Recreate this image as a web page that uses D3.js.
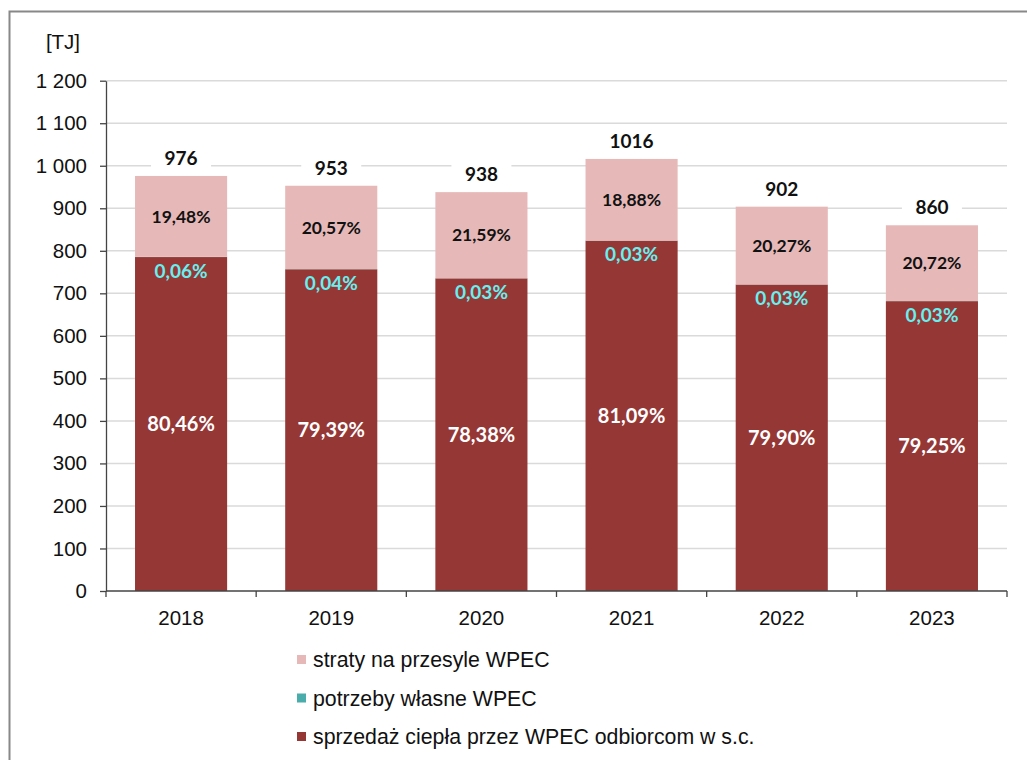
<!DOCTYPE html>
<html>
<head>
<meta charset="utf-8">
<script src="https://cdn.jsdelivr.net/npm/d3@7"></script>
<style>
  body { margin: 0; background: #fff; }
  svg { display: block; }
</style>
</head>
<body>
<div id="chart"></div>
<script>
// lata
const years = ["2018", "2019", "2020", "2021", "2022", "2023"];
// suma [TJ]
const totals = [976, 953, 938, 1016, 902, 860];
// sprzedaż ciepła [TJ]
const sales = [785.3, 756.6, 735.2, 823.9, 720.7, 681.6];
// potrzeby własne [TJ]
const ownNeeds = [0.59, 0.38, 0.28, 0.30, 0.27, 0.26];
// straty [TJ]
const losses = [190.1, 196.0, 202.5, 191.8, 182.8, 178.2];
// etykiety procentowe
const salesPct = ["80,46%", "79,39%", "78,38%", "81,09%", "79,90%", "79,25%"];
const ownPct = ["0,06%", "0,04%", "0,03%", "0,03%", "0,03%", "0,03%"];
const lossPct = ["19,48%", "20,57%", "21,59%", "18,88%", "20,27%", "20,72%"];
const yTicks = [0, 100, 200, 300, 400, 500, 600, 700, 800, 900, 1000, 1100, 1200];

const legendItems = [
  {label: "straty na przesyle WPEC", color: "#e6b9b8"},
  {label: "potrzeby własne WPEC", color: "#4bacac"},
  {label: "sprzedaż ciepła przez WPEC odbiorcom w s.c.", color: "#953735"}
];

const W = 1027, H = 760;
const plotLeft = 106, plotRight = 1007, plotTop = 80.7, plotBottom = 591;

const svg = d3.select("#chart").append("svg")
  .attr("width", W).attr("height", H);

// ramka
svg.append("path")
  .attr("d", `M9.5,${H + 2} V11.5 H${W + 2}`)
  .attr("fill", "none")
  .attr("stroke", "#888")
  .attr("stroke-width", 2);

const x = d3.scaleBand().domain(years).range([plotLeft, plotRight]).paddingInner(0.3867).paddingOuter(0.1933);
const xOuter = d3.scaleBand().domain(years).range([plotLeft, plotRight]);
const y = d3.scaleLinear().domain([0, 1200]).range([plotBottom, plotTop]);

// siatka
svg.append("g")
  .selectAll("line")
  .data(yTicks.filter(d => d > 0))
  .join("line")
  .attr("x1", plotLeft).attr("x2", plotRight)
  .attr("y1", d => y(d)).attr("y2", d => y(d))
  .attr("stroke", "#dadada")
  .attr("stroke-width", 1.5);

const fmt = d => d3.format(",")(d).replace(/,/g, " ");

// oś Y
const yAxis = svg.append("g")
  .attr("transform", `translate(${plotLeft},0)`)
  .call(d3.axisLeft(y).tickValues(yTicks).tickSize(6).tickSizeOuter(0).tickPadding(13).tickFormat(fmt));
yAxis.selectAll("text")
  .attr("font-family", "Liberation Sans, Arial, sans-serif")
  .attr("font-size", 20.5)
  .attr("fill", "#111");
yAxis.selectAll("line, path").attr("stroke", "#444").attr("stroke-width", 1.3);

// słupki
const stackData = years.map((yr, i) => ({year: yr, sales: sales[i], own: ownNeeds[i], losses: losses[i]}));
const stack = d3.stack().keys(["sales", "own", "losses"])(stackData);
const colors = {sales: "#953735", own: "#4bacac", losses: "#e6b9b8"};

svg.append("g")
  .selectAll("g")
  .data(stack)
  .join("g")
  .attr("fill", d => colors[d.key])
  .selectAll("rect")
  .data(d => d)
  .join("rect")
  .attr("x", d => x(d.data.year))
  .attr("width", x.bandwidth())
  .attr("y", d => y(d[1]))
  .attr("height", d => y(d[0]) - y(d[1]));

// oś X
const xAxisG = svg.append("g").attr("transform", `translate(0,${plotBottom})`);
xAxisG.append("line")
  .attr("x1", plotLeft).attr("x2", plotRight)
  .attr("stroke", "#444").attr("stroke-width", 1.3);
xAxisG.selectAll("line.tick")
  .data(years.map(d => xOuter(d)).concat([plotRight]))
  .join("line")
  .attr("class", "tick")
  .attr("x1", d => d).attr("x2", d => d)
  .attr("y1", 0).attr("y2", 6)
  .attr("stroke", "#444").attr("stroke-width", 1.3);
xAxisG.selectAll("text")
  .data(years)
  .join("text")
  .attr("x", d => x(d) + x.bandwidth() / 2)
  .attr("y", 34)
  .attr("text-anchor", "middle")
  .attr("font-family", "Liberation Sans, Arial, sans-serif")
  .attr("font-size", 20.5)
  .attr("fill", "#111")
  .text(d => d);

// [TJ]
svg.append("text")
  .attr("x", 63).attr("y", 49)
  .attr("text-anchor", "middle")
  .attr("font-family", "Liberation Sans, Arial, sans-serif")
  .attr("font-size", 20.5)
  .attr("fill", "#111")
  .text("[TJ]");

const labelFont = "Lato, Carlito, Calibri, sans-serif";
const cx = i => x(years[i]) + x.bandwidth() / 2;

// etykiety sumy
const totalG = svg.append("g").selectAll("g").data(totals).join("g")
  .attr("transform", (d, i) => `translate(${cx(i)},${y(d) - 18})`);
totalG.append("rect")
  .attr("x", -30).attr("y", -13).attr("width", 60).attr("height", 26)
  .attr("fill", "#fff");
totalG.append("text")
  .attr("text-anchor", "middle").attr("dy", "0.36em")
  .attr("font-family", labelFont).attr("font-weight", 700)
  .attr("font-size", 19).attr("fill", "#111")
  .text(d => d);

// etykiety strat
svg.append("g").selectAll("text").data(lossPct).join("text")
  .attr("x", (d, i) => cx(i))
  .attr("y", (d, i) => y((sales[i] + ownNeeds[i] + totals[i]) / 2))
  .attr("dy", "0.36em")
  .attr("text-anchor", "middle")
  .attr("font-family", labelFont).attr("font-weight", 700)
  .attr("font-size", 17.5).attr("fill", "#111")
  .text(d => d);

// etykiety potrzeb własnych
svg.append("g").selectAll("text").data(ownPct).join("text")
  .attr("x", (d, i) => cx(i))
  .attr("y", (d, i) => y(sales[i]) + 14)
  .attr("dy", "0.36em")
  .attr("text-anchor", "middle")
  .attr("font-family", labelFont).attr("font-weight", 700)
  .attr("font-size", 19).attr("fill", "#66f0f0")
  .text(d => d);

// etykiety sprzedaży
svg.append("g").selectAll("text").data(salesPct).join("text")
  .attr("x", (d, i) => cx(i))
  .attr("y", (d, i) => y(sales[i] / 2))
  .attr("dy", "0.36em")
  .attr("text-anchor", "middle")
  .attr("font-family", labelFont).attr("font-weight", 700)
  .attr("font-size", 20).attr("fill", "#fff")
  .text(d => d);

// legenda
const legend = svg.append("g").selectAll("g").data(legendItems).join("g")
  .attr("transform", (d, i) => `translate(297,${660 + i * 38.5})`);
legend.append("rect")
  .attr("x", 0).attr("y", -5).attr("width", 9).attr("height", 9)
  .attr("fill", d => d.color);
legend.append("text")
  .attr("x", 16).attr("dy", "0.35em")
  .attr("font-family", "Liberation Sans, Arial, sans-serif")
  .attr("font-size", 21.3).attr("fill", "#111")
  .text(d => d.label);
</script>
</body>
</html>
